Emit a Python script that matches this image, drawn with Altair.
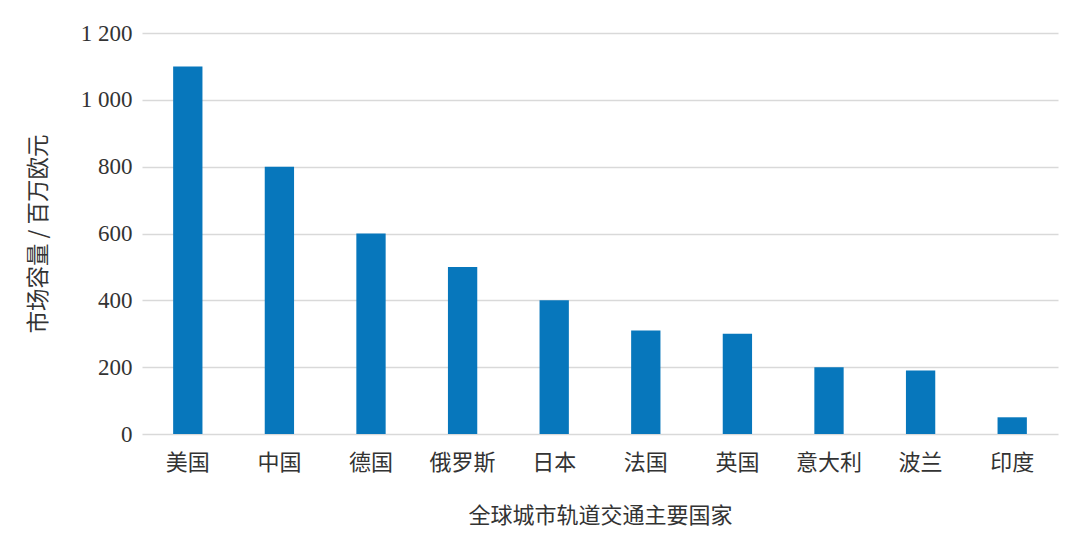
import altair as alt
import pandas as pd

countries = ["美国", "中国", "德国", "俄罗斯", "日本", "法国", "英国", "意大利", "波兰", "印度"]
values = [1100, 800, 600, 500, 400, 310, 300, 200, 190, 50]
y_ticks = [0, 200, 400, 600, 800, 1000, 1200]

df = pd.DataFrame({"country": countries, "value": values})

chart = alt.Chart(df).mark_bar(color="#0777BC").encode(
    x=alt.X("country:N", sort=countries,
            scale=alt.Scale(paddingInner=0.68, paddingOuter=0.34),
            axis=alt.Axis(title="全球城市轨道交通主要国家", labelAngle=0,
                          labelFont="Noto Sans CJK SC", labelFontSize=22,
                          labelColor="#333333", labelPadding=18,
                          titleFont="Noto Sans CJK SC", titleFontSize=22,
                          titleFontWeight="normal", titleColor="#333333",
                          titlePadding=32, ticks=False, domain=False,
                          grid=False)),
    y=alt.Y("value:Q", scale=alt.Scale(domain=[0, 1200]),
            axis=alt.Axis(title="市场容量 / 百万欧元", values=y_ticks,
                          labelExpr="replace(format(datum.value, ','), ',', ' ')",
                          labelFont="Liberation Serif", labelFontSize=23,
                          labelColor="#333333", labelPadding=10,
                          titleFont="Noto Sans CJK SC", titleFontSize=22.5,
                          titleFontWeight="normal", titleColor="#333333",
                          titlePadding=30, ticks=False, domain=False,
                          grid=True, gridColor="#d9d9d9", gridWidth=1.5)),
).properties(
    width=916, height=401,
    background="white",
    padding={"left": 134, "top": 25, "right": 10, "bottom": 110},
    autosize=alt.AutoSizeParams(type="none"),
).configure_view(stroke="transparent", strokeWidth=0)

chart.save("out.html", embed_options={"renderer": "svg", "actions": False})
